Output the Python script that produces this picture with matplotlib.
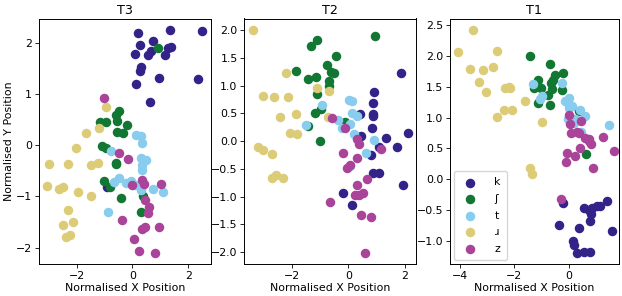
import matplotlib
matplotlib.use("Agg")
import matplotlib.pyplot as plt

labels = ["k", "ʃ", "t", "ɹ", "z"]
colors = ["#332288", "#117733", "#88CCEE", "#DDCC77", "#AA4499"]

# ---------------- T3 ----------------
t3_k_x = [0.20, 1.34, 2.51, 0.26, 0.74, 0.10, 0.54, 0.66, 1.16, 1.28, 1.40, 0.30, 0.26, 0.96, 2.35, 0.14, 0.64, -0.91]
t3_k_y = [2.18, 2.25, 2.22, 1.95, 2.03, 1.78, 1.75, 1.83, 1.76, 1.90, 1.91, 1.52, 1.45, 1.31, 1.29, 1.19, 0.85, -0.82]
t3_sh_x = [0.90, -0.49, -0.61, -0.55, -1.15, -0.94, -0.18, -0.54, -0.34, -1.08, -0.96, -0.59, -0.60, -1.03, -0.82, -0.43, 0.30, 0.36]
t3_sh_y = [1.90, 0.67, 0.59, 0.48, 0.45, 0.46, 0.39, 0.25, 0.24, -0.02, -0.05, -0.34, -0.37, -0.69, -0.82, -1.03, -1.30, -0.99]
t3_t_x = [0.11, 0.30, 0.35, -0.76, 0.32, 0.50, 0.35, 0.35, -0.49, -0.67, -0.24, -0.06, 0.08, 0.32, 0.74, 1.08, -0.88, 0.30]
t3_t_y = [0.19, 0.18, 0.05, -0.11, -0.24, -0.28, -0.39, -0.49, -0.64, -0.72, -0.74, -0.69, -0.77, -0.88, -0.86, -0.92, -1.30, -0.85]
t3_r_x = [-0.96, -1.22, -1.68, -2.04, -3.01, -2.30, -1.50, -1.25, -3.08, -2.65, -2.51, -1.97, -1.50, -2.33, -2.14, -2.48, -2.38, -2.24]
t3_r_y = [0.75, 0.34, 0.24, -0.05, -0.37, -0.37, -0.38, -0.34, -0.79, -0.86, -0.82, -0.92, -1.00, -1.26, -1.50, -1.56, -1.78, -1.75]
t3_z_x = [-1.02, -0.48, -0.16, -0.02, 0.35, 0.42, 1.02, 0.46, 0.58, 0.54, -0.36, 0.35, 0.46, 0.96, 0.06, 0.23, 0.82]
t3_z_y = [0.92, -0.15, -0.27, -0.78, -0.67, -0.75, -0.75, -1.07, -1.21, -1.32, -1.45, -1.63, -1.60, -1.59, -1.83, -2.07, -2.11]

# ---------------- T2 ----------------
t2_k_x = [1.87, 0.92, 0.86, 0.41, 0.86, 0.89, 0.83, 0.43, 1.34, 2.11, 1.09, 1.74, 0.80, 0.89, 1.10, 1.93, -0.21, 0.14]
t2_k_y = [1.23, 0.89, 0.69, 0.48, 0.48, 0.45, 0.24, 0.09, 0.05, 0.14, -0.10, -0.10, -0.25, -0.57, -0.57, -0.79, -0.94, -1.16]
t2_sh_x = [0.95, -1.12, -1.33, -0.44, -0.75, -1.88, -1.16, -1.44, -0.62, -0.53, -0.70, -0.70, -1.12, -0.98, -1.18, -1.44, -1.01, -0.12]
t2_sh_y = [1.89, 1.82, 1.71, 1.53, 1.38, 1.26, 1.15, 1.12, 1.24, 1.22, 1.09, 0.99, 0.84, 0.57, 0.50, 0.28, 0.00, 0.35]
t2_t_x = [0.02, 0.12, -0.95, 0.12, 0.30, -0.36, -0.24, 0.07, -1.50, 0.19, 0.92, 0.63, 0.07]
t2_t_y = [0.74, 0.73, 0.65, 0.50, 0.46, 0.38, 0.24, 0.31, 0.29, 0.12, 0.02, -0.22, -0.45]
t2_r_x = [-3.40, -2.22, -1.11, -0.70, -3.02, -2.65, -2.15, -2.44, -1.85, -0.73, -2.07, -1.83, -3.20, -3.04, -2.73, -2.56, -2.73, -2.32]
t2_r_y = [2.01, 1.23, 0.96, 0.91, 0.82, 0.79, 0.79, 0.44, 0.48, 0.44, 0.14, 0.12, -0.10, -0.16, -0.23, -0.61, -0.67, -0.67]
t2_z_x = [-0.59, -0.12, 0.32, 0.38, 1.14, -0.21, 0.30, 0.06, -0.06, 0.67, 0.30, 0.24, 0.38, 0.50, -0.64, 0.44, 0.79, 0.59]
t2_z_y = [0.41, 0.24, 0.03, -0.05, -0.15, -0.21, -0.31, -0.44, -0.48, -0.69, -0.79, -0.98, -0.97, -0.93, -1.10, -1.33, -1.37, -2.02]

# ---------------- T1 ----------------
t1_k_x = [-0.20, 1.41, 1.04, 1.16, 0.86, 0.55, 0.73, 0.83, 0.77, -0.37, 0.37, 1.59, 0.15, 0.18, 0.31, 0.55, 0.80]
t1_k_y = [-0.38, -0.35, -0.43, -0.43, -0.46, -0.47, -0.49, -0.56, -0.67, -0.74, -0.79, -0.84, -0.99, -1.06, -1.19, -1.17, -1.18]
t1_sh_x = [-1.42, -0.70, -0.21, -0.49, -0.57, -1.14, -0.65, -1.26, -1.02, -0.60, -0.24, -0.76, -1.14, -0.67, 0.37, 0.64]
t1_sh_y = [2.00, 1.87, 1.72, 1.68, 1.60, 1.61, 1.55, 1.48, 1.47, 1.46, 1.45, 1.36, 1.24, 1.20, 1.11, 0.41]
t1_t_x = [-1.32, -0.24, -0.98, -1.04, 0.02, -0.02, -0.12, 0.00, 0.12, 0.43, 0.59, -0.02, 0.24, 0.21, 0.45, 1.49]
t1_t_y = [1.54, 1.55, 1.34, 1.30, 1.31, 1.24, 1.26, 1.15, 1.19, 1.12, 1.03, 0.97, 0.98, 0.91, 0.76, 0.88]
t1_r_x = [-3.49, -4.06, -2.61, -3.60, -3.14, -2.78, -3.30, -3.02, -2.32, -2.20, -2.14, -1.61, -2.36, -2.07, -2.63, -0.98, -1.41, -1.35]
t1_r_y = [2.42, 2.06, 2.08, 1.78, 1.77, 1.81, 1.57, 1.41, 1.47, 1.49, 1.47, 1.27, 1.12, 1.12, 1.01, 0.93, 0.18, 0.08]
t1_z_x = [0.00, 0.06, 0.09, 0.31, 0.37, 0.45, 0.61, 0.73, 0.82, 0.76, 1.26, 0.43, -0.05, 0.22, 1.68, -0.10, 0.88, -0.27]
t1_z_y = [1.04, 0.89, 0.75, 0.76, 0.75, 0.95, 0.67, 0.66, 0.57, 0.62, 0.69, 0.51, 0.42, 0.38, 0.46, 0.28, 0.18, -0.31]

panels = [
    ("T3", [(t3_k_x, t3_k_y), (t3_sh_x, t3_sh_y), (t3_t_x, t3_t_y), (t3_r_x, t3_r_y), (t3_z_x, t3_z_y)],
     (-3.37, 2.81), (-2.32, 2.47), [-2, 0, 2], [-2, -1, 0, 1, 2]),
    ("T2", [(t2_k_x, t2_k_y), (t2_sh_x, t2_sh_y), (t2_t_x, t2_t_y), (t2_r_x, t2_r_y), (t2_z_x, t2_z_y)],
     (-3.70, 2.39), (-2.22, 2.21), [-2, 0, 2], [-2.0, -1.5, -1.0, -0.5, 0.0, 0.5, 1.0, 1.5, 2.0]),
    ("T1", [(t1_k_x, t1_k_y), (t1_sh_x, t1_sh_y), (t1_t_x, t1_t_y), (t1_r_x, t1_r_y), (t1_z_x, t1_z_y)],
     (-4.35, 1.83), (-1.37, 2.60), [-4, -2, 0], [-1.0, -0.5, 0.0, 0.5, 1.0, 1.5, 2.0, 2.5]),
]

FS = 7.9
fig = plt.figure(figsize=(6.22, 2.96), dpi=100)
W, H = 622, 296
boxes = [(38.7, 210.7), (244.3, 415.7), (450.0, 618.5)]
top_px, bot_px = 18.5, 264.2

for i, (title, series, xl, yl, xt, yt) in enumerate(panels):
    l, r = boxes[i]
    ax = fig.add_axes([l / W, (H - bot_px) / H, (r - l) / W, (bot_px - top_px) / H])
    for (xs, ys), c, lab in zip(series, colors, labels):
        ax.scatter(xs, ys, color=c, s=34, label=lab)
    ax.set_xlim(*xl)
    ax.set_ylim(*yl)
    ax.set_xticks(xt)
    ax.set_yticks(yt)
    ax.tick_params(labelsize=FS, length=2.8, width=0.6, pad=2)
    for sp in ax.spines.values():
        sp.set_linewidth(0.7)
    ax.set_title(title, fontsize=9.2, pad=3.5)
    ax.set_xlabel("Normalised X Position", fontsize=FS, labelpad=1.5)
    if i == 0:
        ax.set_ylabel("Normalised Y Position", fontsize=FS, labelpad=1.5)
    if i == 2:
        ax.legend(loc="lower left", fontsize=FS, borderpad=0.6, labelspacing=0.6,
                  handletextpad=1.3, borderaxespad=0.35, handlelength=1.8)

fig.savefig("out.png", dpi=100)
